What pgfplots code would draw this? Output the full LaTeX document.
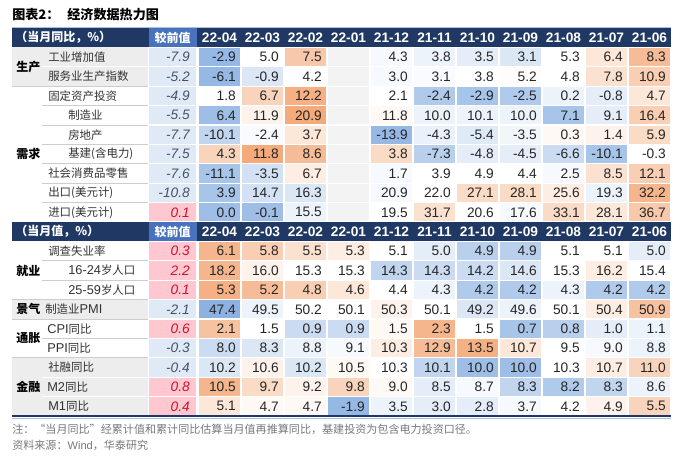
\documentclass[border=0pt]{standalone}
\usepackage{pgfplots}
\pgfplotsset{compat=1.18}
\usepackage{pgfplotstable}
\usepackage{fontspec}
\setmainfont{Liberation Sans}
\newfontfamily\cjk{Noto Sans CJK SC}
\definecolor{navy}{RGB}{31,56,100}
\definecolor{hdrblue}{RGB}{72,114,190}
\definecolor{topline}{RGB}{170,192,225}
\definecolor{lgray}{RGB}{237,237,237}
\definecolor{sepgray}{RGB}{205,205,205}
\definecolor{numcol}{RGB}{38,38,38}
\definecolor{lblcol}{RGB}{50,50,50}
\definecolor{posred}{RGB}{200,20,45}
\definecolor{neggray}{RGB}{70,82,105}
\definecolor{notegray}{RGB}{120,120,120}
\pgfplotsset{colormap={heat}{rgb255(0cm)=(132,172,224); rgb255(7cm)=(255,255,255); rgb255(14cm)=(244,170,122); rgb255(15cm)=(255,200,208); rgb255(17cm)=(255,200,208); rgb255(18cm)=(243,243,243); rgb255(20cm)=(243,243,243)}}
\newcommand\numfont{\fontsize{10.3}{12}\selectfont}
\newcommand\lblfont{\cjk\fontsize{8.6}{10}\selectfont}
% cell shapes (1 px = 0.75 pt): month cell 41.8 x 18.2 px, change cell 46.8 x 18.2 px
\pgfdeclareplotmark{cellM}{\pgfpathrectangle{\pgfpoint{-15.675pt}{-6.825pt}}{\pgfpoint{31.35pt}{13.65pt}}\pgfusepathqfill}
\pgfdeclareplotmark{cellC}{\pgfpathrectangle{\pgfpoint{-17.55pt}{-6.825pt}}{\pgfpoint{35.1pt}{13.65pt}}\pgfusepathqfill}

% col -1 = change vs previous; cols 0..10 = 22-04 ... 21-06
% c = colour level, v = printed value
\pgfplotstableread{
col row c v
-1 1 -0.175 -7.9
0 1 -0.6 -2.9
1 1 0 5.0
2 1 0.45 7.5
3 1 1.2 {}
4 1 -0.05 4.3
5 1 -0.1 3.8
6 1 -0.15 3.5
7 1 -0.2 3.1
8 1 0 5.3
9 1 0.2 6.4
10 1 0.55 8.3
-1 2 -0.175 -5.2
0 2 -0.6 -6.1
1 2 -0.2 -0.9
2 2 0 4.2
3 2 1.2 {}
4 2 -0.05 3.0
5 2 -0.03 3.1
6 2 0 3.8
7 2 0.02 5.2
8 2 0 4.8
9 2 0.25 7.8
10 2 0.4 10.9
-1 3 -0.175 -4.9
0 3 0 1.8
1 3 0.35 6.7
2 3 0.65 12.2
3 3 1.2 {}
4 3 0 2.1
5 3 -0.45 -2.4
6 3 -0.5 -2.9
7 3 -0.45 -2.5
8 3 -0.1 0.2
9 3 -0.15 -0.8
10 3 0.2 4.7
-1 4 -0.175 -5.5
0 4 -0.55 6.4
1 4 0.1 11.9
2 4 0.7 20.9
3 4 1.2 {}
4 4 0.05 11.8
5 4 -0.1 10.0
6 4 -0.1 10.1
7 4 -0.1 10.0
8 4 -0.5 7.1
9 4 -0.15 9.1
10 4 0.4 16.4
-1 5 -0.175 -7.7
0 5 -0.35 -10.1
1 5 -0.03 -2.4
2 5 0.2 3.7
3 5 1.2 {}
4 5 -0.6 -13.9
5 5 -0.12 -4.3
6 5 -0.18 -5.4
7 5 -0.08 -3.5
8 5 0.05 0.3
9 5 0.1 1.4
10 5 0.3 5.9
-1 6 -0.175 -7.5
0 6 0.35 4.3
1 6 0.7 11.8
2 6 0.55 8.6
3 6 1.2 {}
4 6 0.3 3.8
5 6 -0.4 -7.3
6 6 -0.15 -4.8
7 6 -0.15 -4.5
8 6 -0.3 -6.6
9 6 -0.5 -10.1
10 6 0 -0.3
-1 7 -0.175 -7.6
0 7 -0.5 -11.1
1 7 -0.25 -3.5
2 7 0.15 6.7
3 7 1.2 {}
4 7 -0.05 1.7
5 7 0 3.9
6 7 0 4.9
7 7 0 4.4
8 7 -0.05 2.5
9 7 0.25 8.5
10 7 0.4 12.1
-1 8 -0.175 -10.8
0 8 -0.5 3.9
1 8 -0.25 14.7
2 8 -0.2 16.3
3 8 1.2 {}
4 8 -0.05 20.9
5 8 0 22.0
6 8 0.3 27.1
7 8 0.3 28.1
8 8 0.15 25.6
9 8 -0.1 19.3
10 8 0.6 32.2
-1 9 0.9 0.1
0 9 -0.55 0.0
1 9 -0.55 -0.1
2 9 -0.1 15.5
3 9 1.2 {}
4 9 0 19.5
5 9 0.25 31.7
6 9 0 20.6
7 9 -0.05 17.6
8 9 0.3 33.1
9 9 0.2 28.1
10 9 0.45 36.7
}\secA

\pgfplotstableread{
col row c v
-1 11 0.9 0.3
0 11 0.6 6.1
1 11 0.4 5.8
2 11 0.25 5.5
3 11 0.15 5.3
4 11 0 5.1
5 11 -0.15 5.0
6 11 -0.4 4.9
7 11 -0.4 4.9
8 11 0 5.1
9 11 0 5.1
10 11 -0.15 5.0
-1 12 0.9 2.2
0 12 0.6 18.2
1 12 0.1 16.0
2 12 0 15.3
3 12 0 15.3
4 12 -0.35 14.3
5 12 -0.3 14.3
6 12 -0.3 14.2
7 12 -0.2 14.6
8 12 0 15.3
9 12 0.15 16.2
10 12 0 15.4
-1 13 0.9 0.1
0 13 0.65 5.3
1 13 0.55 5.2
2 13 0.4 4.8
3 13 0.2 4.6
4 13 0 4.4
5 13 -0.1 4.3
6 13 -0.45 4.2
7 13 -0.45 4.2
8 13 -0.1 4.3
9 13 -0.45 4.2
10 13 -0.45 4.2
-1 14 -0.175 -2.1
0 14 -0.65 47.4
1 14 -0.1 49.5
2 14 0 50.2
3 14 0 50.1
4 14 0.1 50.3
5 14 0 50.1
6 14 -0.2 49.2
7 14 -0.1 49.6
8 14 0 50.1
9 14 0.15 50.4
10 14 0.5 50.9
-1 15 0.9 0.6
0 15 0.5 2.1
1 15 0 1.5
2 15 -0.3 0.9
3 15 -0.3 0.9
4 15 0.05 1.5
5 15 0.6 2.3
6 15 0 1.5
7 15 -0.5 0.7
8 15 -0.4 0.8
9 15 -0.15 1.0
10 15 -0.1 1.1
-1 16 -0.175 -0.3
0 16 -0.3 8.0
1 16 -0.2 8.3
2 16 -0.1 8.8
3 16 -0.05 9.1
4 16 0.15 10.3
5 16 0.55 12.9
6 16 0.65 13.5
7 16 0.2 10.7
8 16 0 9.5
9 16 -0.05 9.0
10 16 -0.1 8.8
-1 17 -0.175 -0.4
0 17 -0.2 10.2
1 17 0.1 10.6
2 17 -0.2 10.2
3 17 0.05 10.5
4 17 0 10.3
5 17 -0.35 10.1
6 17 -0.55 10.0
7 17 -0.55 10.0
8 17 0 10.3
9 17 0.15 10.7
10 17 0.35 11.0
-1 18 0.9 0.8
0 18 0.6 10.5
1 18 0.3 9.7
2 18 0.1 9.2
3 18 0.35 9.8
4 18 0.05 9.0
5 18 -0.15 8.5
6 18 -0.05 8.7
7 18 -0.35 8.3
8 18 -0.45 8.2
9 18 -0.35 8.3
10 18 -0.1 8.6
-1 19 0.9 0.4
0 19 0.2 5.1
1 19 0.05 4.7
2 19 0.05 4.7
3 19 -0.6 -1.9
4 19 -0.1 3.5
5 19 -0.15 3.0
6 19 -0.15 2.8
7 19 -0.05 3.7
8 19 0 4.2
9 19 0.1 4.9
10 19 0.35 5.5
}\secB

\pgfplotsset{
  heatcell/.style={scatter, only marks, forget plot, point meta=\thisrow{c},
    point meta min=-0.7, point meta max=1.3,
    scatter/use mapped color={fill=mapped color, draw=none}},
  valtext/.style={draw=none, mark=none, forget plot,
    point meta=explicit symbolic, nodes near coords,
    every node near coord/.append style={anchor=east, inner sep=0pt, font=\numfont, text=numcol}},
}

\begin{document}
\begin{tikzpicture}
\begin{axis}[
  width=525pt, height=342pt, scale only axis,
  xmin=0, xmax=700, ymin=0, ymax=456, y dir=reverse,
  hide axis, clip=false,
  colormap name=heat,
]
\path (axis cs:0,0) rectangle (axis cs:700,456);
% title
\node[anchor=west, inner sep=0pt, font=\cjk\bfseries\fontsize{9.8}{11}\selectfont] at (axis cs:12,15) {图表2：\hspace{6pt}经济数据热力图};
% header rows
\fill[topline] (axis cs:12,26.8) rectangle (axis cs:671,28.3);
\fill[navy] (axis cs:12,28) rectangle (axis cs:671,47.4);
\fill[hdrblue] (axis cs:149,28) rectangle (axis cs:196.5,47.4);
\fill[navy] (axis cs:12,222) rectangle (axis cs:671,241.4);
\fill[hdrblue] (axis cs:149,222) rectangle (axis cs:196.5,241.4);
% label area backgrounds
\fill[lgray] (axis cs:12,47.4) rectangle (axis cs:148,86.2);
\fill[lgray] (axis cs:12,299.6) rectangle (axis cs:148,319);
\fill[lgray] (axis cs:12,357.8) rectangle (axis cs:148,416);
% separators
\draw[white, line width=0.9pt] (axis cs:42,66.8) -- (axis cs:148,66.8);
\draw[sepgray, line width=0.5pt] (axis cs:12,86.2) -- (axis cs:148,86.2);
\draw[sepgray, line width=0.5pt] (axis cs:42,105.6) -- (axis cs:148,105.6);
\draw[sepgray, line width=0.5pt] (axis cs:42,125) -- (axis cs:148,125);
\draw[sepgray, line width=0.5pt] (axis cs:42,144.4) -- (axis cs:148,144.4);
\draw[sepgray, line width=0.5pt] (axis cs:42,163.8) -- (axis cs:148,163.8);
\draw[sepgray, line width=0.5pt] (axis cs:42,183.2) -- (axis cs:148,183.2);
\draw[sepgray, line width=0.5pt] (axis cs:42,202.6) -- (axis cs:148,202.6);
\draw[sepgray, line width=0.5pt] (axis cs:42,260.8) -- (axis cs:148,260.8);
\draw[sepgray, line width=0.5pt] (axis cs:42,280.2) -- (axis cs:148,280.2);
\draw[sepgray, line width=0.5pt] (axis cs:12,299.6) -- (axis cs:148,299.6);
\draw[sepgray, line width=0.5pt] (axis cs:12,319) -- (axis cs:148,319);
\draw[sepgray, line width=0.5pt] (axis cs:42,338.4) -- (axis cs:148,338.4);
\draw[sepgray, line width=0.5pt] (axis cs:12,357.8) -- (axis cs:148,357.8);
\draw[white, line width=0.9pt] (axis cs:42,377.2) -- (axis cs:148,377.2);
\draw[white, line width=0.9pt] (axis cs:42,396.6) -- (axis cs:148,396.6);
% heat cells: months
\addplot[heatcell, mark=cellM, restrict x to domain=200:700] table[x expr={\thisrow{col}<0 ? -1000 : 219.5+43*\thisrow{col}}, y expr={37.7+19.4*\thisrow{row}}] {\secA};
\addplot[heatcell, mark=cellM, restrict x to domain=200:700] table[x expr={\thisrow{col}<0 ? -1000 : 219.5+43*\thisrow{col}}, y expr={37.7+19.4*\thisrow{row}}] {\secB};
% heat cells: change vs previous
\addplot[heatcell, mark=cellC, restrict x to domain=100:700] table[x expr={\thisrow{col}<0 ? 172.5 : -1000}, y expr={37.7+19.4*\thisrow{row}}] {\secA};
\addplot[heatcell, mark=cellC, restrict x to domain=100:700] table[x expr={\thisrow{col}<0 ? 172.5 : -1000}, y expr={37.7+19.4*\thisrow{row}}] {\secB};
% month values
\addplot[valtext, restrict x to domain=200:700] table[x expr={\thisrow{col}<0 ? -1000 : 236+43*\thisrow{col}}, y expr={37.7+19.4*\thisrow{row}}, meta=v] {\secA};
\addplot[valtext, restrict x to domain=200:700] table[x expr={\thisrow{col}<0 ? -1000 : 236+43*\thisrow{col}}, y expr={37.7+19.4*\thisrow{row}}, meta=v] {\secB};
% change vs previous: negative (gray) and positive (red), italic
\addplot[valtext, restrict x to domain=100:700, every node near coord/.append style={font=\numfont\itshape, text=neggray}] table[x expr={\thisrow{col}<0 ? (\thisrow{c}<0.5 ? 190 : -1000) : -1000}, y expr={37.7+19.4*\thisrow{row}}, meta=v] {\secA};
\addplot[valtext, restrict x to domain=100:700, every node near coord/.append style={font=\numfont\itshape, text=posred}] table[x expr={\thisrow{col}<0 ? (\thisrow{c}>0.5 ? 190 : -1000) : -1000}, y expr={37.7+19.4*\thisrow{row}}, meta=v] {\secA};
\addplot[valtext, restrict x to domain=100:700, every node near coord/.append style={font=\numfont\itshape, text=neggray}] table[x expr={\thisrow{col}<0 ? (\thisrow{c}<0.5 ? 190 : -1000) : -1000}, y expr={37.7+19.4*\thisrow{row}}, meta=v] {\secB};
\addplot[valtext, restrict x to domain=100:700, every node near coord/.append style={font=\numfont\itshape, text=posred}] table[x expr={\thisrow{col}<0 ? (\thisrow{c}>0.5 ? 190 : -1000) : -1000}, y expr={37.7+19.4*\thisrow{row}}, meta=v] {\secB};
% header texts
\begin{scope}[every node/.style={text=white, font=\bfseries\fontsize{10.3}{12}\selectfont, inner sep=0pt}]
\node[anchor=west, font=\cjk\bfseries\fontsize{9}{11}\selectfont] at (axis cs:15,37.7) {（当月同比，\%）};
\node[anchor=west, font=\cjk\bfseries\fontsize{9}{11}\selectfont] at (axis cs:15,231.7) {（当月值，\%）};
\node[font=\cjk\bfseries\fontsize{9}{11}\selectfont] at (axis cs:172.5,37.7) {较前值};
\node[font=\cjk\bfseries\fontsize{9}{11}\selectfont] at (axis cs:172.5,231.7) {较前值};
\node at (axis cs:219.5,37.7) {22-04}; \node at (axis cs:219.5,231.7) {22-04};
\node at (axis cs:262.5,37.7) {22-03}; \node at (axis cs:262.5,231.7) {22-03};
\node at (axis cs:305.5,37.7) {22-02}; \node at (axis cs:305.5,231.7) {22-02};
\node at (axis cs:348.5,37.7) {22-01}; \node at (axis cs:348.5,231.7) {22-01};
\node at (axis cs:391.5,37.7) {21-12}; \node at (axis cs:391.5,231.7) {21-12};
\node at (axis cs:434.5,37.7) {21-11}; \node at (axis cs:434.5,231.7) {21-11};
\node at (axis cs:477.5,37.7) {21-10}; \node at (axis cs:477.5,231.7) {21-10};
\node at (axis cs:520.5,37.7) {21-09}; \node at (axis cs:520.5,231.7) {21-09};
\node at (axis cs:563.5,37.7) {21-08}; \node at (axis cs:563.5,231.7) {21-08};
\node at (axis cs:606.5,37.7) {21-07}; \node at (axis cs:606.5,231.7) {21-07};
\node at (axis cs:649.5,37.7) {21-06}; \node at (axis cs:649.5,231.7) {21-06};
\end{scope}
% row labels
\begin{scope}[every node/.style={anchor=west, inner sep=0pt, text=lblcol, font=\lblfont}]
\node at (axis cs:48,57.1) {工业增加值};
\node at (axis cs:48,76.5) {服务业生产指数};
\node at (axis cs:48,95.9) {固定资产投资};
\node at (axis cs:68,115.3) {制造业};
\node at (axis cs:68,134.7) {房地产};
\node at (axis cs:68,154.1) {基建(含电力)};
\node at (axis cs:48,173.5) {社会消费品零售};
\node at (axis cs:48,192.9) {出口(美元计)};
\node at (axis cs:48,212.3) {进口(美元计)};
\node at (axis cs:48,251.1) {调查失业率};
\node at (axis cs:68,270.5) {{\fontspec{Liberation Sans}\fontsize{9.6}{10}\selectfont 16-24}岁人口};
\node at (axis cs:68,289.9) {{\fontspec{Liberation Sans}\fontsize{9.6}{10}\selectfont 25-59}岁人口};
\node at (axis cs:45,309.3) {制造业{\fontspec{Liberation Sans}\fontsize{9.6}{10}\selectfont PMI}};
\node at (axis cs:47,328.7) {{\fontspec{Liberation Sans}\fontsize{9.6}{10}\selectfont CPI}同比};
\node at (axis cs:47,348.1) {{\fontspec{Liberation Sans}\fontsize{9.6}{10}\selectfont PPI}同比};
\node at (axis cs:48,367.5) {社融同比};
\node at (axis cs:47,386.9) {{\fontspec{Liberation Sans}\fontsize{9.6}{10}\selectfont M2}同比};
\node at (axis cs:48,406.3) {{\fontspec{Liberation Sans}\fontsize{9.6}{10}\selectfont M1}同比};
\end{scope}
% group labels
\begin{scope}[every node/.style={anchor=west, inner sep=0pt, text=black, font=\cjk\bfseries\fontsize{9}{10}\selectfont}]
\node at (axis cs:16,66.8) {生产};
\node at (axis cs:16,154.1) {需求};
\node at (axis cs:16,270.5) {就业};
\node at (axis cs:16,309.3) {景气};
\node at (axis cs:16,338.4) {通胀};
\node at (axis cs:16,386.9) {金融};
\end{scope}
% bottom rule
\draw[navy, line width=1.5pt] (axis cs:12,416.3) -- (axis cs:671,416.3);
\draw[topline, line width=0.6pt] (axis cs:12,418.4) -- (axis cs:671,418.4);
% notes
\node[anchor=west, inner sep=0pt, text=notegray, font=\cjk\fontsize{8.3}{10}\selectfont] at (axis cs:12,429) {注：“当月同比”经累计值和累计同比估算当月值再推算同比，基建投资为包含电力投资口径。};
\node[anchor=west, inner sep=0pt, text=notegray, font=\cjk\fontsize{8.3}{10}\selectfont] at (axis cs:12,445) {资料来源：{\fontspec{Liberation Sans}Wind}，华泰研究};
\end{axis}
\end{tikzpicture}
\end{document}
